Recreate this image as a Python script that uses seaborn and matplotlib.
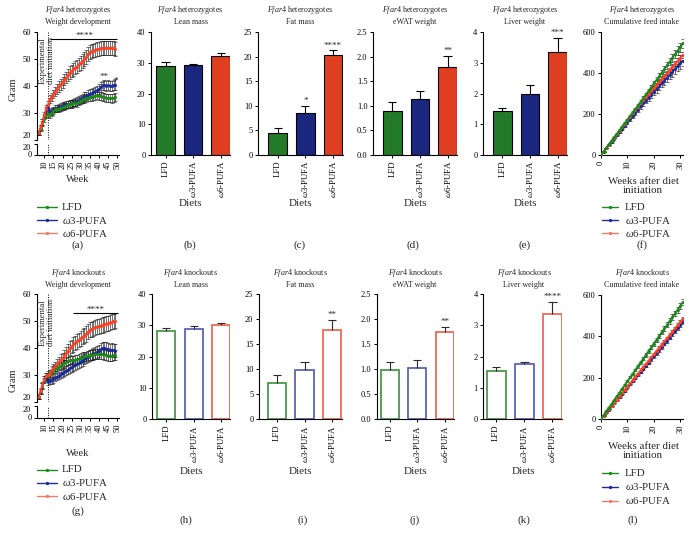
import numpy as np
import pandas as pd
import matplotlib
matplotlib.use("Agg")
import matplotlib.pyplot as plt
import seaborn as sns
from matplotlib.lines import Line2D

# ---------------- data ----------------
diets = ["LFD", "w3", "w6"]
diet_labels = ["LFD", r"$\omega$3-PUFA", r"$\omega$6-PUFA"]

weeks = list(range(7, 50))
het_lfd = [22.5, 24.0, 26.0, 27.5, 29.0, 29.5, 29.3, 30.0, 30.5, 31.2,
           31.5, 31.3, 31.8, 32.1, 32.3, 32.6, 33.0, 33.3, 33.2, 33.5,
           33.8, 33.6, 34.1, 34.5, 35.0, 35.2, 35.4, 35.6, 35.8, 35.9,
           36.1, 36.3, 36.5, 36.2, 36.3, 36.0, 35.8, 35.4, 35.6, 35.5,
           35.3, 35.6, 35.7]
het_w3 = [22.5, 24.5, 26.5, 28.5, 31.0, 32.0, 30.2, 30.5, 31.0, 31.5,
          31.7, 32.0, 32.3, 32.6, 32.8, 33.0, 33.1, 33.3, 33.5, 33.8,
          34.0, 34.2, 34.6, 35.0, 35.6, 36.0, 36.3, 36.7, 37.1, 37.3,
          37.6, 38.0, 38.3, 38.8, 39.7, 40.2, 40.3, 40.1, 40.2, 40.0,
          40.1, 40.3, 40.4]
het_w6 = [22.5, 24.5, 26.5, 29.0, 31.5, 33.0, 35.2, 36.0, 37.0, 37.8,
          38.8, 39.8, 40.6, 41.4, 42.3, 43.1, 44.0, 45.0, 45.6, 46.2,
          46.8, 47.2, 48.0, 48.6, 49.3, 50.0, 50.8, 51.8, 52.5, 52.9,
          53.2, 53.4, 53.6, 53.8, 54.0, 54.1, 54.3, 54.2, 54.1, 54.1,
          54.3, 54.0, 53.9]
het_lfd_err = [0.8, 0.9, 0.9, 1.0, 1.0, 1.0, 1.1, 1.1, 1.1, 1.1,
               1.2, 1.2, 1.2, 1.2, 1.2, 1.2, 1.3, 1.3, 1.3, 1.3,
               1.3, 1.3, 1.3, 1.4, 1.4, 1.4, 1.4, 1.4, 1.4, 1.4,
               1.4, 1.4, 1.5, 1.5, 1.5, 1.5, 1.5, 1.5, 1.5, 1.5,
               1.5, 1.5, 1.5]
het_w3_err = [0.8, 0.9, 1.0, 1.0, 1.1, 1.1, 1.1, 1.2, 1.2, 1.2,
              1.2, 1.3, 1.3, 1.3, 1.3, 1.3, 1.4, 1.4, 1.4, 1.4,
              1.4, 1.5, 1.5, 1.5, 1.5, 1.6, 1.6, 1.6, 1.6, 1.7,
              1.7, 1.7, 1.7, 1.8, 1.8, 1.8, 1.8, 1.9, 1.9, 1.9,
              1.9, 1.9, 2.0]
het_w6_err = [0.8, 0.9, 1.0, 1.1, 1.2, 1.3, 1.4, 1.5, 1.6, 1.7,
              1.8, 1.9, 2.0, 2.0, 2.1, 2.2, 2.2, 2.3, 2.3, 2.4,
              2.4, 2.4, 2.5, 2.5, 2.5, 2.5, 2.6, 2.6, 2.6, 2.6,
              2.6, 2.6, 2.6, 2.6, 2.6, 2.6, 2.6, 2.6, 2.6, 2.6,
              2.6, 2.6, 2.6]

ko_lfd = [22.0, 24.0, 26.0, 28.0, 29.5, 29.8, 30.6, 31.2, 31.8, 32.3,
          32.6, 33.0, 33.5, 34.0, 34.3, 34.8, 35.1, 35.5, 35.6, 35.4,
          35.7, 35.8, 36.1, 36.4, 36.7, 36.9, 37.0, 37.2, 37.4, 37.3,
          37.5, 37.7, 37.8, 37.9, 37.8, 37.8, 37.6, 37.3, 37.1, 37.0,
          37.2, 37.3, 37.4]
ko_w3 = [22.0, 24.0, 26.0, 28.5, 29.0, 27.5, 27.8, 28.1, 28.5, 29.0,
         29.4, 29.8, 30.3, 30.8, 31.2, 31.6, 32.0, 32.5, 32.8, 33.3,
         33.8, 34.2, 34.5, 35.0, 35.4, 35.8, 36.3, 36.8, 37.3, 37.6,
         37.9, 38.2, 38.6, 39.0, 39.5, 40.0, 40.1, 39.8, 39.5, 39.3,
         39.4, 39.1, 39.0]
ko_w6 = [22.0, 24.2, 26.3, 28.5, 29.5, 30.0, 30.5, 31.8, 32.5, 33.2,
         34.0, 34.8, 35.6, 36.2, 37.2, 38.0, 38.9, 40.0, 40.6, 41.3,
         42.0, 42.5, 43.0, 43.6, 44.2, 44.6, 45.2, 46.0, 46.7, 47.0,
         47.3, 47.6, 47.9, 48.1, 48.3, 48.5, 48.8, 49.0, 49.2, 49.4,
         49.7, 49.9, 50.1]
ko_lfd_err = [0.8, 0.9, 1.0, 1.0, 1.1, 1.1, 1.2, 1.2, 1.2, 1.3,
              1.3, 1.3, 1.4, 1.4, 1.4, 1.5, 1.5, 1.5, 1.5, 1.6,
              1.6, 1.6, 1.6, 1.7, 1.7, 1.7, 1.7, 1.7, 1.8, 1.8,
              1.8, 1.8, 1.8, 1.8, 1.9, 1.9, 1.9, 1.9, 1.9, 1.9,
              1.9, 1.9, 1.9]
ko_w3_err = [0.8, 0.9, 1.0, 1.1, 1.1, 1.2, 1.2, 1.3, 1.3, 1.3,
             1.4, 1.4, 1.5, 1.5, 1.5, 1.6, 1.6, 1.7, 1.7, 1.7,
             1.8, 1.8, 1.8, 1.9, 1.9, 1.9, 2.0, 2.0, 2.0, 2.1,
             2.1, 2.1, 2.2, 2.2, 2.2, 2.2, 2.3, 2.3, 2.3, 2.3,
             2.3, 2.3, 2.3]
ko_w6_err = [0.8, 0.9, 1.0, 1.1, 1.2, 1.3, 1.4, 1.5, 1.6, 1.7,
             1.8, 1.9, 2.0, 2.1, 2.2, 2.3, 2.4, 2.5, 2.5, 2.6,
             2.6, 2.7, 2.7, 2.7, 2.8, 2.8, 2.8, 2.8, 2.8, 2.8,
             2.8, 2.8, 2.8, 2.8, 2.8, 2.8, 2.8, 2.8, 2.8, 2.8,
             2.8, 2.8, 2.8]

feed_weeks = list(range(0, 32))
het_feed_lfd = [0, 17, 35, 52, 69, 87, 104, 121, 139, 156, 173, 190, 208, 225, 242, 260,
                278, 296, 314, 332, 350, 367, 385, 403, 421, 439, 457, 475, 493, 510, 528, 546]
het_feed_w3 = [0, 16, 32, 48, 64, 80, 96, 112, 128, 144, 159, 175, 191, 207, 222, 238,
               252, 266, 280, 294, 308, 322, 336, 350, 364, 378, 392, 406, 420, 434, 448, 462]
het_feed_w6 = [0, 17, 34, 51, 68, 84, 101, 118, 135, 152, 169, 186, 203, 219, 236, 253,
               268, 283, 298, 312, 327, 342, 357, 372, 386, 401, 416, 431, 446, 460, 475, 490]
het_feed_lfd_err = [0, 1, 1, 2, 2, 3, 3, 4, 4, 5, 5, 6, 6, 7, 7, 8,
                    9, 9, 10, 11, 12, 13, 14, 15, 16, 17, 18, 19, 20, 21, 22, 23]
het_feed_w3_err = [0, 1, 2, 2, 3, 4, 4, 5, 6, 6, 7, 8, 8, 9, 10, 11,
                   12, 13, 14, 15, 16, 17, 18, 19, 20, 21, 22, 23, 24, 25, 26, 27]
het_feed_w6_err = [0, 1, 1, 1, 2, 2, 2, 3, 3, 3, 4, 4, 5, 5, 5, 6,
                   6, 7, 7, 8, 8, 9, 9, 10, 10, 11, 11, 12, 12, 13, 13, 14]

ko_feed_lfd = [0, 18, 37, 55, 73, 91, 110, 128, 146, 164, 183, 201, 219, 237, 256, 274,
               292, 310, 329, 347, 365, 383, 402, 420, 438, 456, 475, 493, 511, 529, 548, 566]
ko_feed_w3 = [0, 15, 30, 45, 61, 76, 91, 106, 121, 136, 152, 167, 182, 197, 212, 227,
              242, 258, 273, 288, 303, 318, 333, 349, 364, 379, 394, 409, 424, 440, 455, 470]
ko_feed_w6 = [0, 16, 31, 47, 63, 78, 94, 110, 125, 141, 157, 172, 188, 204, 219, 235,
              251, 266, 282, 298, 313, 329, 345, 360, 376, 392, 407, 423, 439, 455, 470, 486]
ko_feed_lfd_err = [0, 1, 1, 2, 2, 3, 3, 3, 4, 4, 5, 5, 6, 6, 7, 7,
                   8, 8, 9, 9, 10, 10, 11, 11, 12, 12, 13, 13, 14, 14, 15, 15]
ko_feed_w3_err = [0, 1, 1, 1, 2, 2, 2, 3, 3, 3, 4, 4, 4, 5, 5, 5,
                  6, 6, 6, 7, 7, 7, 8, 8, 8, 9, 9, 9, 10, 10, 10, 11]
ko_feed_w6_err = [0, 1, 1, 1, 1, 2, 2, 2, 2, 3, 3, 3, 3, 4, 4, 4,
                  4, 5, 5, 5, 5, 6, 6, 6, 6, 7, 7, 7, 7, 8, 8, 8]

het_lean = [29.0, 29.3, 32.3]
het_lean_err = [1.2, 0.5, 1.1]
het_fat = [4.5, 8.5, 20.3]
het_fat_err = [1.0, 1.5, 1.0]
het_ewat = [0.90, 1.15, 1.80]
het_ewat_err = [0.17, 0.15, 0.22]
het_liver = [1.45, 2.00, 3.35]
het_liver_err = [0.08, 0.27, 0.47]

ko_lean = [28.3, 28.8, 30.0]
ko_lean_err = [1.0, 0.9, 0.7]
ko_fat = [7.2, 9.8, 17.9]
ko_fat_err = [1.6, 1.6, 2.0]
ko_ewat = [0.99, 1.03, 1.75]
ko_ewat_err = [0.16, 0.15, 0.10]
ko_liver = [1.55, 1.75, 3.37]
ko_liver_err = [0.12, 0.08, 0.38]

# ---------------- style ----------------
sns.set_theme(style="ticks")
plt.rcParams["font.family"] = ["Liberation Serif", "DejaVu Serif"]
plt.rcParams["mathtext.fontset"] = "custom"
plt.rcParams["mathtext.rm"] = "Liberation Serif"
plt.rcParams["mathtext.it"] = "Liberation Serif:italic"
plt.rcParams["mathtext.bf"] = "Liberation Serif:bold"

line_colors = {"LFD": "#1b8a1b", "w3": "#1a2aa0", "w6": "#ff4020"}
legend_colors = {"LFD": "#1b8a1b", "w3": "#1a2aa0", "w6": "#f07a68"}
fill_colors = {"LFD": "#14891c", "w3": "#0b1b8f", "w6": "#ff2a00"}
edge_colors = {"LFD": "#4a9a4a", "w3": "#5a66b8", "w6": "#ee6a55"}

W, H = 692.0, 534.0
fig = plt.figure(figsize=(6.92, 5.34), dpi=100)
fig.patch.set_facecolor("white")


def px_ax(l, t, r, b):
    return fig.add_axes([l / W, 1 - b / H, (r - l) / W, (b - t) / H])


def ftext(x, y, s, **kw):
    fig.text(x / W, 1 - y / H, s, **kw)


def style(ax):
    for s in ["top", "right"]:
        ax.spines[s].set_visible(False)
    for s in ["left", "bottom"]:
        ax.spines[s].set_linewidth(0.8)
        ax.spines[s].set_color("black")
    ax.tick_params(direction="out", length=2.5, width=0.7, labelsize=6, pad=1.5,
                   colors="black")
    ax.set_xlabel("")
    ax.set_ylabel("")
    ax.set_facecolor("none")


def titles(cx, y1, y2, t1, t2):
    ftext(cx, y1, t1, ha="center", va="center", fontsize=5.8)
    ftext(cx, y2, t2, ha="center", va="center", fontsize=5.8)


def legend(x0, x1, xt, ys):
    for key, lab, y in zip(diets, diet_labels, ys):
        c = legend_colors[key]
        fig.add_artist(Line2D([x0 / W, x1 / W], [1 - y / H] * 2, color=c, lw=1.0,
                              transform=fig.transFigure))
        fig.add_artist(Line2D([(x0 + x1) / 2 / W], [1 - y / H], color=c, marker="o",
                              ms=2.4, mew=0, transform=fig.transFigure))
        ftext(xt, y, lab, ha="left", va="center", fontsize=7.8)


def bar_panel(box, xl, xr, vals, errs, ylim, yticks, ylabels, stars, filled):
    ax = px_ax(*box)
    df = pd.DataFrame({"Diet": diets, "Value": vals})
    if filled:
        sns.barplot(data=df, x="Diet", y="Value", hue="Diet", order=diets,
                    hue_order=diets, palette=fill_colors, width=0.68,
                    edgecolor="black", linewidth=0.8, errorbar=None,
                    legend=False, ax=ax)
        ec = "black"
    else:
        sns.barplot(data=df, x="Diet", y="Value", hue="Diet", order=diets,
                    hue_order=diets, palette=edge_colors, width=0.66,
                    fill=False, linewidth=1.3, errorbar=None, legend=False, ax=ax)
        ec = "#2a2a2a"
    x = np.arange(3)
    v = np.array(vals)
    top = v + np.array(errs)
    ax.vlines(x, v, top, color=ec, lw=0.8, zorder=3)
    ax.hlines(top, x - 0.15, x + 0.15, color=ec, lw=0.8, zorder=3)
    rng = ylim[1] - ylim[0]
    for i, s in enumerate(stars):
        if s:
            ax.text(i, top[i] + 0.005 * rng, s, ha="center", va="bottom", fontsize=6.5)
    ax.set_xlim(xl, xr)
    ax.set_ylim(*ylim)
    ax.set_yticks(yticks)
    ax.set_yticklabels(ylabels)
    style(ax)
    ax.set_xticks(x)
    ax.set_xticklabels(diet_labels, rotation=90, fontsize=6.3)
    return ax


def weight_panel(top, u20, l20, bot, data, errs, bar_y, bar_x0, bar_x1, star_x, extra):
    axu = px_ax(37, top, 119, u20)
    axl = px_ax(37, l20, 119, bot)
    for key in ["w3", "LFD", "w6"]:
        axu.errorbar(weeks, data[key], yerr=errs[key], fmt="none", ecolor="#222222",
                     elinewidth=0.45, capsize=1.2, capthick=0.45, zorder=2)
        sns.lineplot(x=weeks, y=data[key], color=line_colors[key], lw=1.2, marker="o",
                     markersize=2.2, markeredgewidth=0, ax=axu, zorder=3)
    for ax in (axu, axl):
        ax.set_xlim(6, 51)
        ax.axvline(12.2, color="black", ls=(0, (1, 1.5)), lw=0.7, zorder=1)
        style(ax)
    axu.set_ylim(20, 60)
    axu.set_yticks([20, 30, 40, 50, 60])
    axu.spines["bottom"].set_visible(False)
    axu.set_xticks([])
    axu.get_yticklabels()[0].set_verticalalignment("bottom")
    axl.set_ylim(0, 20)
    axl.set_yticks([0, 20])
    axl.set_yticklabels(["0", "20"], fontsize=6)
    axl.get_yticklabels()[1].set_verticalalignment("top")
    axl.get_yticklabels()[0].set_verticalalignment("center")
    axl.set_xticks([10, 15, 20, 25, 30, 35, 40, 45, 50])
    axl.set_xticklabels(["10", "15", "20", "25", "30", "35", "40", "45", "50"], rotation=90)
    axu.text(11.4, 58.2, "Experimental\ndiet initiation", rotation=90, ha="center",
             va="top", fontsize=6.2, linespacing=1.0, multialignment="center")
    axu.hlines(bar_y, bar_x0, bar_x1, color="black", lw=0.8)
    axu.text(star_x, bar_y - 0.3, "****", ha="center", va="bottom", fontsize=6.5)
    for (xs, ys, s) in extra:
        axu.text(xs, ys, s, ha="center", va="center", fontsize=6.5)
    return axu, axl


def feed_panel(box, data, errs):
    ax = px_ax(*box)
    for key in ["w3", "w6", "LFD"]:
        ax.errorbar(feed_weeks, data[key], yerr=errs[key], fmt="none", ecolor="#222222",
                    elinewidth=0.45, capsize=1.2, capthick=0.45, zorder=2)
        sns.lineplot(x=feed_weeks, y=data[key], color=line_colors[key], lw=1.4,
                     marker="o", markersize=2.2, markeredgewidth=0, ax=ax, zorder=3)
    ax.set_xlim(0, 31)
    ax.set_ylim(0, 600)
    ax.set_yticks([0, 200, 400, 600])
    style(ax)
    ax.set_xticks([0, 10, 20, 30])
    ax.set_xticklabels(["0", "10", "20", "30"], rotation=90)
    return ax


# ---------------- top row: heterozygotes ----------------
het = r"$\mathit{Ffar4}$ heterozygotes"
ko = r"$\mathit{Ffar4}$ knockouts"

weight_panel(32.3, 139.5, 144, 155,
             {"LFD": het_lfd, "w3": het_w3, "w6": het_w6},
             {"LFD": het_lfd_err, "w3": het_w3_err, "w6": het_w6_err},
             57.5, 13.2, 49.8, 32, [(42.7, 43.2, "**"), (49.2, 42.0, "*")])
titles(78, 10, 22, het, "Weight development")
ftext(13, 89, "Gram", rotation=90, ha="center", va="center", fontsize=7.5)
ftext(78, 180, "Week", ha="center", va="center", fontsize=7.5)
legend(37, 57, 62, [207, 220, 233])
ftext(78, 245, "(a)", ha="center", va="center", fontsize=8)

bar_panel((151, 32.3, 230, 155), -0.53, 2.34, het_lean, het_lean_err, (0, 40),
          [0, 10, 20, 30, 40], ["0", "10", "20", "30", "40"], ["", "", ""], True)
titles(190.5, 10, 22, het, "Lean mass")
bar_panel((258, 32.3, 342.5, 155), -0.72, 2.35, het_fat, het_fat_err, (0, 25),
          [0, 5, 10, 15, 20, 25], ["0", "5", "10", "15", "20", "25"], ["", "*", "****"], True)
titles(300, 10, 22, het, "Fat mass")
bar_panel((373, 32.3, 457, 155), -0.70, 2.34, het_ewat, het_ewat_err, (0, 2.5),
          [0, 0.5, 1.0, 1.5, 2.0, 2.5], ["0.0", "0.5", "1.0", "1.5", "2.0", "2.5"],
          ["", "", "**"], True)
titles(415, 10, 22, het, "eWAT weight")
bar_panel((483, 32.3, 567, 155), -0.70, 2.34, het_liver, het_liver_err, (0, 4),
          [0, 1, 2, 3, 4], ["0", "1", "2", "3", "4"], ["", "", "***"], True)
titles(525, 10, 22, het, "Liver weight")
feed_panel((601, 32.3, 683, 155),
           {"LFD": het_feed_lfd, "w3": het_feed_w3, "w6": het_feed_w6},
           {"LFD": het_feed_lfd_err, "w3": het_feed_w3_err, "w6": het_feed_w6_err})
titles(642, 10, 22, het, "Cumulative feed intake")
ftext(643, 186, "Weeks after diet\ninitiation", ha="center", va="center",
      fontsize=7.8, linespacing=1.1)
legend(602, 618, 625, [207, 220, 233])

for x, lab in zip([190, 300, 413, 525, 642], ["(b)", "(c)", "(d)", "(e)", "(f)"]):
    ftext(x, 245, lab, ha="center", va="center", fontsize=8)
for x in [190.5, 300, 415, 525]:
    ftext(x, 204, "Diets", ha="center", va="center", fontsize=8)

# ---------------- bottom row: knockouts ----------------
weight_panel(294, 402, 406, 418,
             {"LFD": ko_lfd, "w3": ko_w3, "w6": ko_w6},
             {"LFD": ko_lfd_err, "w3": ko_w3_err, "w6": ko_w6_err},
             52.8, 26, 50.5, 38, [])
titles(78, 273, 285, ko, "Weight development")
ftext(13, 380, "Gram", rotation=90, ha="center", va="center", fontsize=7.5)
ftext(78, 453, "Week", ha="center", va="center", fontsize=7.5)
legend(37, 57, 62, [470, 483, 496])
ftext(78, 511, "(g)", ha="center", va="center", fontsize=8)

bar_panel((152, 294, 230.3, 419.3), -0.52, 2.34, ko_lean, ko_lean_err, (0, 40),
          [0, 10, 20, 30, 40], ["0", "10", "20", "30", "40"], ["", "", ""], False)
titles(190.5, 273, 285, ko, "Lean mass")
bar_panel((259, 294, 341.7, 419.3), -0.64, 2.34, ko_fat, ko_fat_err, (0, 25),
          [0, 5, 10, 15, 20, 25], ["0", "5", "10", "15", "20", "25"], ["", "", "**"], False)
titles(300, 273, 285, ko, "Fat mass")
bar_panel((376.7, 294, 454.3, 419.3), -0.47, 2.34, ko_ewat, ko_ewat_err, (0, 2.5),
          [0, 0.5, 1.0, 1.5, 2.0, 2.5], ["0.0", "0.5", "1.0", "1.5", "2.0", "2.5"],
          ["", "", "**"], False)
titles(415, 273, 285, ko, "eWAT weight")
bar_panel((483.3, 294, 562, 419.3), -0.46, 2.34, ko_liver, ko_liver_err, (0, 4),
          [0, 1, 2, 3, 4], ["0", "1", "2", "3", "4"], ["", "", "****"], False)
titles(524, 273, 285, ko, "Liver weight")
feed_panel((601, 295, 683, 419),
           {"LFD": ko_feed_lfd, "w3": ko_feed_w3, "w6": ko_feed_w6},
           {"LFD": ko_feed_lfd_err, "w3": ko_feed_w3_err, "w6": ko_feed_w6_err})
titles(642, 273, 285, ko, "Cumulative feed intake")
ftext(643, 451, "Weeks after diet\ninitiation", ha="center", va="center",
      fontsize=7.8, linespacing=1.1)
legend(602, 618, 625, [473, 487, 501])

for x, lab in zip([186, 303, 415, 524, 633], ["(h)", "(i)", "(j)", "(k)", "(l)"]):
    ftext(x, 520, lab, ha="center", va="center", fontsize=8)
for x in [191, 300, 415, 523]:
    ftext(x, 471, "Diets", ha="center", va="center", fontsize=8)

fig.savefig("out.png", dpi=100, facecolor="white")
